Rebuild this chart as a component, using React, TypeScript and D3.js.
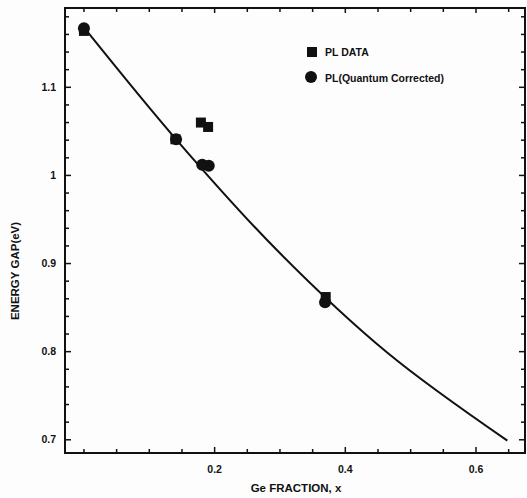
import React from 'react';
import * as d3 from 'd3';

// PL DATA (squares)
const plX = [0, 0.14, 0.179, 0.19, 0.37];
const plY = [1.164, 1.041, 1.06, 1.055, 0.862];

// PL (Quantum Corrected) (circles)
const qcX = [0, 0.141, 0.181, 0.191, 0.369];
const qcY = [1.167, 1.041, 1.012, 1.011, 0.856];

// fitted curve
const fitX = [0, 0.141, 0.2956, 0.464, 0.648];
const fitY = [1.168, 1.041, 0.915, 0.799, 0.699];

const xMajor = [0.2, 0.4, 0.6];
const xMinor = [0, 0.05, 0.1, 0.15, 0.25, 0.3, 0.35, 0.45, 0.5, 0.55, 0.65];
const yMajor = [0.7, 0.8, 0.9, 1.0, 1.1];
const yLabels = ['0.7', '0.8', '0.9', '1', '1.1'];
const yMinor = d3.range(0.72, 1.19, 0.02).filter((v) => Math.abs(Math.round(v * 10) - v * 10) > 0.05);

const W = 527;
const H = 498;
const FONT = 'Arial, "Liberation Sans", Helvetica, sans-serif';

const App = () => {
  const x = d3.scaleLinear().domain([-0.029, 0.675]).range([65, 525]);
  const y = d3.scaleLinear().domain([0.685, 1.19]).range([453, 8]);

  const [x0, x1] = x.range();
  const [y0, y1] = y.range();

  const line = d3
    .line<number>()
    .x((d, i) => x(fitX[i]))
    .y((d) => y(d))
    .curve(d3.curveCatmullRom);

  return (
    <svg
      width={W}
      height={H}
      style={{ position: 'absolute', left: 0, top: 0, background: '#fdfdfd' }}
      fontFamily={FONT}
      fontWeight="bold"
    >
      {/* frame */}
      <rect x={x0} y={y1} width={x1 - x0} height={y0 - y1} fill="none" stroke="#111" strokeWidth={2} />

      {/* x ticks bottom/top */}
      {xMajor.map((t) => (
        <g key={'xm' + t}>
          <line x1={x(t)} x2={x(t)} y1={y0} y2={y0 - 6} stroke="#111" strokeWidth={1.5} />
          <line x1={x(t)} x2={x(t)} y1={y1} y2={y1 + 5} stroke="#111" strokeWidth={1.5} />
          <text x={x(t)} y={y0 + 20} textAnchor="middle" fontSize={10.5} fill="#111">
            {t.toFixed(1)}
          </text>
        </g>
      ))}
      {xMinor.map((t) => (
        <g key={'xn' + t}>
          <line x1={x(t)} x2={x(t)} y1={y0} y2={y0 - 4} stroke="#111" strokeWidth={1.5} />
          <line x1={x(t)} x2={x(t)} y1={y1} y2={y1 + 4} stroke="#111" strokeWidth={1.5} />
        </g>
      ))}

      {/* y ticks left/right */}
      {yMajor.map((t, i) => (
        <g key={'ym' + t}>
          <line x1={x0} x2={x0 + 6} y1={y(t)} y2={y(t)} stroke="#111" strokeWidth={1.5} />
          <line x1={x1} x2={x1 - 6} y1={y(t)} y2={y(t)} stroke="#111" strokeWidth={1.5} />
          <text x={x0 - 9} y={y(t)} dy="0.35em" textAnchor="end" fontSize={10.5} fill="#111">
            {yLabels[i]}
          </text>
        </g>
      ))}
      {yMinor.map((t) => (
        <g key={'yn' + t}>
          <line x1={x0} x2={x0 + 4} y1={y(t)} y2={y(t)} stroke="#111" strokeWidth={1.5} />
          <line x1={x1} x2={x1 - 4} y1={y(t)} y2={y(t)} stroke="#111" strokeWidth={1.5} />
        </g>
      ))}

      {/* axis titles */}
      <text
        transform={`translate(19, 271) rotate(-90)`}
        textAnchor="middle"
        fontSize={11.5}
        fill="#111"
      >
        ENERGY GAP(eV)
      </text>
      <text x={296} y={492} textAnchor="middle" fontSize={11.5} fill="#111">
        Ge FRACTION, x
      </text>

      {/* fitted curve */}
      <path d={line(fitY) || ''} fill="none" stroke="#111" strokeWidth={2} />

      {/* PL data squares */}
      {plY.map((v, i) => (
        <rect key={'s' + i} x={x(plX[i]) - 5} y={y(v) - 5} width={10} height={10} fill="#111" />
      ))}
      {/* quantum corrected circles */}
      {qcY.map((v, i) => (
        <circle key={'c' + i} cx={x(qcX[i])} cy={y(v)} r={6} fill="#111" />
      ))}

      {/* legend */}
      <rect x={307} y={47} width={10} height={10} fill="#111" />
      <text x={325} y={52} dy="0.35em" fontSize={10.5} fill="#111">
        PL DATA
      </text>
      <circle cx={311} cy={77} r={6} fill="#111" />
      <text x={325} y={78} dy="0.35em" fontSize={10.5} fill="#111">
        PL(Quantum Corrected)
      </text>
    </svg>
  );
};

export default App;
